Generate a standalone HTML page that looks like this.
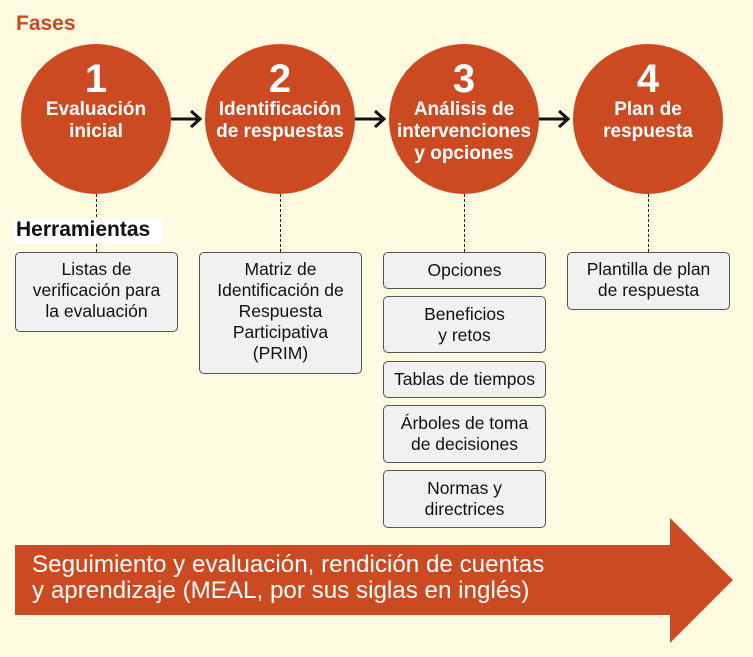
<!DOCTYPE html>
<html><head><meta charset="utf-8"><style>
*{margin:0;padding:0;box-sizing:border-box}
body{width:753px;height:657px;background:#fffbe1;position:relative;overflow:hidden;font-family:"Liberation Sans",Arial,sans-serif}
.c{position:absolute;width:150px;height:150px;border-radius:50%;background:#cc4a22;color:#fff;text-align:center;font-weight:bold}
.c .n{font-size:40px;line-height:40px;margin-top:15px}
.c .t{font-size:19px;line-height:22px;margin-top:0px;margin-left:-10px;margin-right:-10px}
.b{position:absolute;background:#f1f1f1;border:1px solid #555;border-radius:5px;font-size:17.5px;line-height:21px;color:#111;text-align:center;display:flex;align-items:center;justify-content:center;padding:2px 0;white-space:nowrap}
.tp{align-items:flex-start;padding-top:6px}
.d{position:absolute;width:0;border-left:1.3px dashed #222}
</style></head><body>
<div style="position:absolute;left:16px;top:12px;color:#cc4a22;font-weight:bold;font-size:21px">Fases</div>
<div class="c" style="left:21px;top:44px"><div class="n">1</div><div class="t">Evaluación<br>inicial</div></div>
<div class="c" style="left:205px;top:44px"><div class="n">2</div><div class="t">Identificación<br>de respuestas</div></div>
<div class="c" style="left:389px;top:44px"><div class="n">3</div><div class="t">Análisis de<br>intervenciones<br>y opciones</div></div>
<div class="c" style="left:573px;top:44px"><div class="n">4</div><div class="t">Plan de<br>respuesta</div></div>
<svg style="position:absolute;left:0;top:0" width="753" height="657">
<g stroke="#111" stroke-width="3" fill="none">
<path d="M171 119H199M191 111L200 119L191 127"/>
<path d="M355 119H383M375 111L384 119L375 127"/>
<path d="M539 119H567M559 111L568 119L559 127"/>
</g>
<polygon points="15,545 670,545 670,518 733,580 670,643 670,615 15,615" fill="#cc4a22"/>
</svg>
<div class="d" style="left:96px;top:194px;height:58px"></div>
<div class="d" style="left:280px;top:194px;height:58px"></div>
<div class="d" style="left:464px;top:194px;height:58px"></div>
<div class="d" style="left:648px;top:194px;height:58px"></div>
<div style="position:absolute;left:13px;top:219px;width:150px;height:24px;background:#fff;font-weight:bold;font-size:21px;line-height:22px;padding-left:3px;color:#111">Herramientas</div>
<div class="b tp" style="left:15px;top:252px;width:163px;height:80px">Listas de<br>verificación para<br>la evaluación</div>
<div class="b tp" style="left:199px;top:252px;width:163px;height:122px">Matriz de<br>Identificación de<br>Respuesta<br>Participativa<br>(PRIM)</div>
<div class="b" style="left:383px;top:252px;width:163px;height:37px">Opciones</div>
<div class="b" style="left:383px;top:296px;width:163px;height:57px">Beneficios<br>y retos</div>
<div class="b" style="left:383px;top:361px;width:163px;height:37px">Tablas de tiempos</div>
<div class="b" style="left:383px;top:405px;width:163px;height:58px">Árboles de toma<br>de decisiones</div>
<div class="b" style="left:383px;top:470px;width:163px;height:58px">Normas y<br>directrices</div>
<div class="b tp" style="left:567px;top:252px;width:163px;height:58px">Plantilla de plan<br>de respuesta</div>
<div style="position:absolute;left:32px;top:552px;color:#fff;font-size:24.2px;line-height:26px;white-space:nowrap">Seguimiento y evaluación, rendición de cuentas<br>y aprendizaje (MEAL, por sus siglas en inglés)</div>
</body></html>
